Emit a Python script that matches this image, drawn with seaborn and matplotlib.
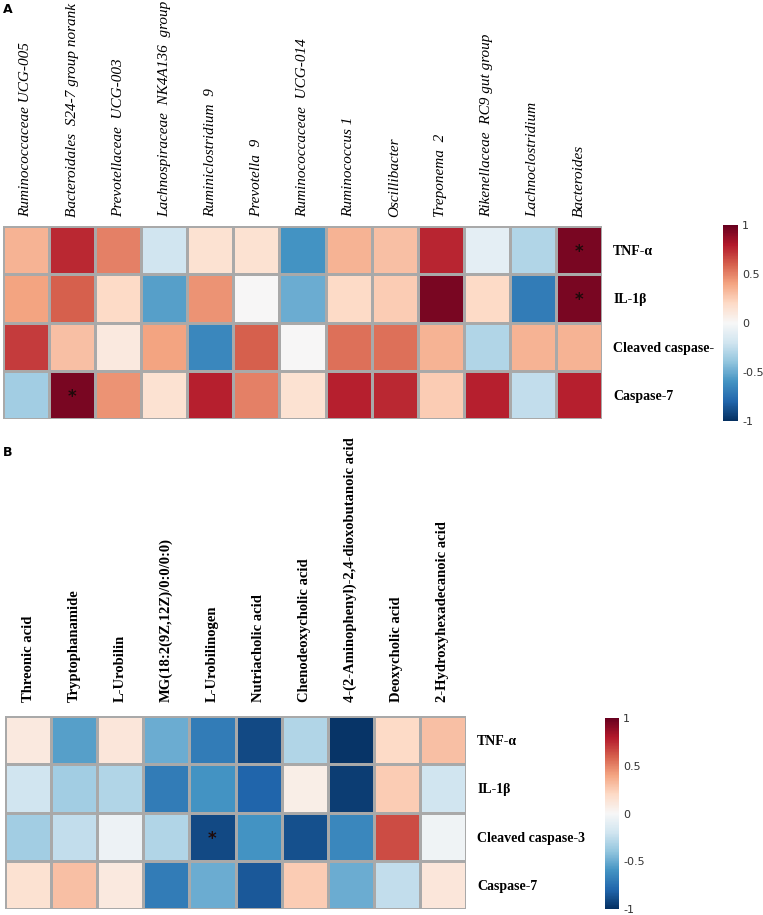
import numpy as np
import pandas as pd
import matplotlib
matplotlib.use("Agg")
import matplotlib.pyplot as plt
import seaborn as sns

rows_a = ["TNF-α", "IL-1β", "Cleaved caspase-", "Caspase-7"]
rows_b = ["TNF-α", "IL-1β", "Cleaved caspase-3", "Caspase-7"]

genera = ["Ruminococcaceae UCG-005", "Bacteroidales  S24-7 group norank",
          "Prevotellaceae  UCG-003", "Lachnospiraceae  NK4A136  group",
          "Ruminiclostridium  9", "Prevotella  9", "Ruminococcaceae  UCG-014",
          "Ruminococcus 1", "Oscillibacter", "Treponema  2",
          "Rikenellaceae  RC9 gut group", "Lachnoclostridium", "Bacteroides"]

# correlation values, one list per genus (TNF, IL-1b, cleaved casp, casp-7)
tnf_a = [0.35, 0.75, 0.50, -0.20, 0.15, 0.15, -0.60, 0.35, 0.30, 0.76, -0.10, -0.30, 0.95]
il1b_a = [0.40, 0.60, 0.20, -0.55, 0.45, 0.00, -0.50, 0.20, 0.25, 0.95, 0.20, -0.70, 0.95]
ccas_a = [0.70, 0.30, 0.10, 0.40, -0.65, 0.60, 0.00, 0.55, 0.55, 0.35, -0.30, 0.35, 0.35]
cas7_a = [-0.35, 0.95, 0.45, 0.15, 0.78, 0.50, 0.15, 0.78, 0.75, 0.25, 0.78, -0.25, 0.78]
stars_a = [(0, 12), (1, 12), (3, 1)]

metabolites = ["Threonic acid", "Tryptophanamide", "L-Urobilin",
               "MG(18:2(9Z,12Z)/0:0/0:0)", "L-Urobilinogen", "Nutriacholic acid",
               "Chenodeoxycholic acid", "4-(2-Aminophenyl)-2,4-dioxobutanoic acid",
               "Deoxycholic acid", "2-Hydroxyhexadecanoic acid"]

tnf_b = [0.10, -0.55, 0.12, -0.50, -0.70, -0.90, -0.30, -0.98, 0.20, 0.30]
il1b_b = [-0.20, -0.35, -0.30, -0.70, -0.60, -0.80, 0.07, -0.95, 0.25, -0.20]
ccas_b = [-0.35, -0.25, -0.05, -0.30, -0.90, -0.60, -0.88, -0.65, 0.65, -0.04]
cas7_b = [0.15, 0.30, 0.10, -0.70, -0.50, -0.85, 0.25, -0.50, -0.25, 0.12]
stars_b = [(2, 4)]

W, H = 763, 915
fig = plt.figure(figsize=(W / 100, H / 100), dpi=100)
serif = ["Liberation Serif", "DejaVu Serif"]


def box(x0, y0, x1, y1):
    return [x0 / W, 1 - y1 / H, (x1 - x0) / W, (y1 - y0) / H]


def panel(vals, cols, rows, stars, hm_box, cb_box, pad, col_font):
    df = pd.DataFrame(vals, index=rows, columns=cols)
    annot = np.full(df.shape, "", dtype=object)
    for r, c in stars:
        annot[r, c] = "*"
    ax = fig.add_axes(box(*hm_box))
    cax = fig.add_axes(box(*cb_box))
    sns.heatmap(df, ax=ax, cbar_ax=cax, cmap="RdBu_r", vmin=-1, vmax=1,
                linewidths=1, linecolor="#a9a9a9", annot=annot, fmt="",
                annot_kws=dict(color="#1e0a0a", fontsize=12, fontweight="bold",
                               va="center_baseline"))
    ax.xaxis.tick_top()
    ax.set_xticklabels(cols, rotation=90, va="bottom", ha="center", **col_font)
    ax.set_yticklabels(rows, rotation=0, family=serif, fontweight="bold", fontsize=10)
    ax.yaxis.tick_right()
    ax.tick_params(axis="x", length=0, pad=pad)
    ax.tick_params(axis="y", length=0, pad=8)
    ax.set_xlabel("")
    ax.set_ylabel("")
    cax.set_yticks([-1, -0.5, 0, 0.5, 1])
    cax.set_yticklabels(["-1", "-0.5", "0", "0.5", "1"])
    cax.tick_params(length=0, labelsize=8, colors="#333333", pad=3)
    for s in cax.spines.values():
        s.set_visible(False)


vals_a = [tnf_a, il1b_a, ccas_a, cas7_a]
panel(vals_a, genera, rows_a, stars_a, (3, 226, 602, 419), (723, 225, 738, 421), 6.5,
      dict(family=serif, style="italic", fontsize=11))

vals_b = [tnf_b, il1b_b, ccas_b, cas7_b]
panel(vals_b, metabolites, rows_b, stars_b, (5, 716, 466, 909), (605, 718, 619, 909), 10,
      dict(family=serif, fontweight="bold", fontsize=10.5))

fig.text(3 / W, 1 - 3 / H, "A", fontsize=9, fontweight="bold", va="top", ha="left")
fig.text(3 / W, 1 - 446 / H, "B", fontsize=9, fontweight="bold", va="top", ha="left")

fig.savefig("out.png", dpi=100)
